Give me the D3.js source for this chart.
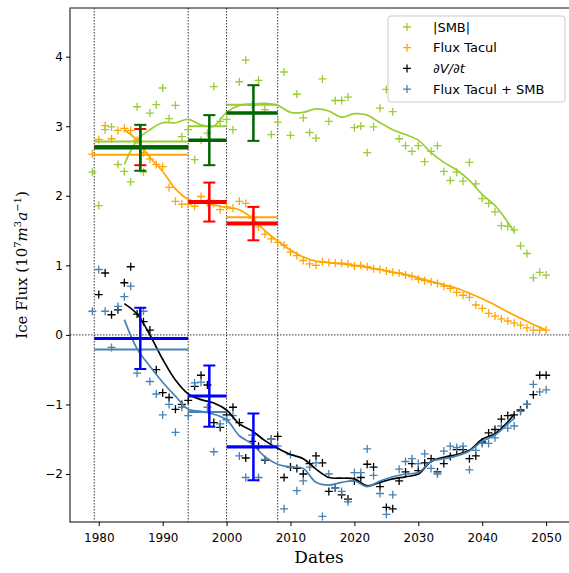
<!DOCTYPE html>
<html><head><meta charset="utf-8">
<script src="https://cdn.jsdelivr.net/npm/d3@7"></script>
<style>body{margin:0;background:#fff}svg{display:block}</style>
</head><body><svg id="c" width="569" height="573"></svg>
<script>
// yearly points
var smbYears=d3.range(1979,2051);
var smbPts=[2.34,1.86,2.95,2.99,2.45,2.35,2.2,3.28,2.34,3.19,3.31,3.55,3.11,3.3,2.85,2.95,2.52,2.8,2.9,3.57,3.07,3.1,2.95,3.64,3.95,3.3,3.66,3.24,2.88,3.06,3.78,2.87,3.46,3.12,2.91,2.83,3.68,3.07,3.37,3.37,3.42,2.98,3.0,2.62,2.99,3.26,3.53,3.21,2.82,2.72,2.64,2.72,2.49,2.64,2.72,2.35,2.22,2.34,2.21,2.48,2.17,1.96,1.89,1.77,1.57,1.56,1.51,1.28,1.17,0.82,0.90,0.86];
var fluxPts=[2.6,2.81,3.01,2.82,2.94,2.97,2.94,2.8,2.62,2.53,2.45,2.42,2.12,1.92,1.88,1.88,1.85,1.99,1.9,1.89,1.8,1.84,1.82,1.92,1.89,1.68,1.55,1.45,1.38,1.33,1.29,1.19,1.14,1.07,1.02,1.0,1.05,1.04,1.03,1.03,1.02,0.99,1.0,0.98,0.95,0.94,0.92,0.9,0.89,0.86,0.84,0.8,0.78,0.76,0.74,0.7,0.67,0.61,0.57,0.54,0.43,0.38,0.31,0.27,0.23,0.2,0.17,0.14,0.1,0.07,0.07,0.07];
var dvdtPts=[null,0.58,0.89,0.29,0.36,0.75,0.98,0.3,0.19,0.07,-0.5,-0.83,-0.9,-1.07,-1.0,-0.94,-0.74,-0.58,-0.72,-1.26,-1.33,-1.15,-1.04,-1.26,-1.77,-1.53,-1.6,-1.8,-1.5,-1.46,-2.05,-1.9,-1.92,-2.0,-1.85,-1.74,-1.84,-2.25,-2.2,-2.3,-2.36,-2.1,-2.05,-1.86,-1.9,-2.18,-2.48,-2.5,-2.1,-1.97,-1.85,-1.95,-1.84,-1.78,-1.97,-1.85,-1.75,-1.65,-1.65,-1.78,-1.74,-1.54,-1.41,-1.36,-1.21,-1.16,-1.15,-1.08,-1.0,-0.86,-0.58,-0.58];
var sumPts=[0.34,0.94,0.34,-0.18,0.41,0.55,0.7,-0.55,0.34,-0.67,-0.85,-1.15,-1.0,-1.4,-1.04,-1.16,-0.69,-0.68,-1.04,-1.68,-1.28,-1.22,-1.16,-1.74,-2.05,-1.44,-2.05,-1.79,-1.5,-1.6,-2.5,-1.72,-2.24,-2.1,-1.9,-1.84,-2.61,-2.0,-2.2,-2.25,-2.4,-1.98,-1.98,-1.64,-2.02,-2.28,-2.58,-2.3,-1.93,-1.82,-1.78,-1.85,-1.71,-1.92,-2.0,-1.67,-1.6,-1.62,-1.6,-1.94,-1.66,-1.56,-1.56,-1.48,-1.31,-1.34,-1.31,-1.1,-1.0,-0.71,-0.82,-0.79];
// smoothed model lines
var lineYears=[1984,1986,1988,1990,1992,1994,1996,1998,2000,2002,2004,2006,2008,2010,2012,2014,2016,2018,2020,2022,2024,2026,2028,2030,2032,2034,2036,2038,2040,2042,2044,2045];
var smbLine=[2.45,2.8,2.95,3.05,3.05,3.1,3.02,3.0,3.2,3.3,3.32,3.33,3.3,3.2,3.2,3.25,3.22,3.13,3.18,3.16,3.05,2.95,2.88,2.8,2.62,2.48,2.37,2.22,2.02,1.86,1.62,1.48];
var dvdtLine=[0.45,0.3,0.0,-0.35,-0.65,-0.85,-0.93,-0.98,-1.08,-1.28,-1.38,-1.52,-1.63,-1.72,-1.78,-1.93,-2.05,-2.06,-2.07,-2.17,-2.12,-2.07,-2.04,-2.0,-1.82,-1.76,-1.72,-1.66,-1.5,-1.42,-1.25,-1.14];
var sumLine=[0.22,-0.2,-0.45,-0.68,-0.88,-1.07,-1.1,-1.14,-1.22,-1.45,-1.57,-1.75,-1.86,-1.9,-1.92,-2.12,-2.16,-2.12,-2.1,-2.18,-2.1,-2.04,-2.0,-1.98,-1.82,-1.78,-1.74,-1.67,-1.53,-1.44,-1.28,-1.2];
var fluxLineYears=[1984,1986,1988,1990,1992,1994,1996,1998,2000,2002,2004,2006,2008,2010,2012,2014,2016,2018,2020,2022,2024,2026,2028,2030,2032,2034,2036,2038,2040,2042,2044,2046,2048,2050];
var fluxLine=[2.95,2.8,2.55,2.35,2.1,1.95,1.9,1.87,1.83,1.8,1.68,1.5,1.35,1.22,1.12,1.06,1.04,1.02,1.0,0.97,0.94,0.9,0.87,0.82,0.77,0.72,0.67,0.6,0.52,0.43,0.33,0.24,0.15,0.07];
// period means
var periods=[[1979.3,1994],[1994,2000],[2000,2008]];
var errX=[1986.5,1997.3,2004.2];
var smbModel=[2.78,3.0,3.31], fluxModel=[2.59,1.91,1.69], sumModel=[-0.21,-1.11,-1.6];
var smbObs=[2.69,2.8,3.19], smbErr=[0.33,0.36,0.4];
var fluxObs=[2.7,1.91,1.6], fluxErr=[0.26,0.28,0.24];
var dvdtObs=[-0.05,-0.88,-1.61], dvdtErr=[0.44,0.44,0.48];
var xTicks=[1980,1990,2000,2010,2020,2030,2040,2050], yTicks=[-2,-1,0,1,2,3,4];

var svg=d3.select('#c');
var L=70,R=572,T=8,B=522;
var x=d3.scaleLinear().domain([1975.5,2054.05]).range([L,R]);
var y=d3.scaleLinear().domain([-2.69,4.70]).range([B,T]);
var g=svg.append('g');

// frame
g.append('rect').attr('x',L).attr('y',T).attr('width',R-L).attr('height',B-T).attr('fill','none').attr('stroke','#000').attr('stroke-width',1);
g.append('line').attr('x1',L).attr('x2',R).attr('y1',T).attr('y2',T).attr('stroke','#888').attr('stroke-width',1.5);
[1979.3,1994,2000,2008].forEach(function(d,i){
  g.append('line').attr('x1',x(d)).attr('x2',x(d)).attr('y1',T).attr('y2',B)
   .attr('stroke',i==0?'#555':'#000').attr('stroke-width',i==0?1.2:0.8).attr('stroke-dasharray','1.5,1.5');
});
g.append('line').attr('x1',L).attr('x2',R).attr('y1',y(0)).attr('y2',y(0)).attr('stroke','#000').attr('stroke-width',0.8).attr('stroke-dasharray','1.5,1.5');

var xa=g.append('g').attr('transform','translate(0,'+B+')').call(d3.axisBottom(x).tickValues(xTicks).tickFormat(d3.format('d')).tickSize(4).tickSizeOuter(0));
var ya=g.append('g').attr('transform','translate('+L+',0)').call(d3.axisLeft(y).tickValues(yTicks).tickFormat(function(d){return d<0?'\u2212'+(-d):d}).tickSize(4).tickSizeOuter(0));
[xa,ya].forEach(function(a){a.select('.domain').remove();a.selectAll('text').attr('font-family','DejaVu Sans').attr('font-size',12).attr('fill','#000');});
xa.selectAll('text').attr('dy','1.1em');

svg.append('text').attr('x',(L+R)/2-2).attr('y',563).attr('text-anchor','middle').attr('font-family','DejaVu Serif').attr('font-size',17).text('Dates');
var yl=svg.append('text').attr('transform','translate(27,'+((T+B)/2)+') rotate(-90)').attr('text-anchor','middle').attr('font-family','DejaVu Serif').attr('font-size',15);
yl.append('tspan').text('Ice Flux (10');
yl.append('tspan').attr('font-size',10).attr('dy',-6).text('7');
yl.append('tspan').attr('dy',6).attr('font-style','italic').text('m');
yl.append('tspan').attr('font-size',10).attr('dy',-6).text('3');
yl.append('tspan').attr('dy',6).attr('font-style','italic').text('a');
yl.append('tspan').attr('font-size',10).attr('dy',-6).text('\u22121');
yl.append('tspan').attr('dy',6).text(')');

function plus(sel,data,color){
  var s=4;
  sel.append('g').selectAll('path').data(data.filter(function(d){return d[1]!=null})).enter().append('path')
   .attr('d',function(d){var px=x(d[0]),py=y(d[1]);return 'M'+(px-s)+','+py+'H'+(px+s)+'M'+px+','+(py-s)+'V'+(py+s);})
   .attr('stroke',color).attr('stroke-width',1.3).attr('fill','none');
}
var line=d3.line().x(function(d){return x(d[0])}).y(function(d){return y(d[1])}).curve(d3.curveCatmullRom);
function drawLine(xs,vs,color){g.append('path').datum(xs.map(function(d,i){return [d,vs[i]]})).attr('d',line).attr('fill','none').attr('stroke',color).attr('stroke-width',1.7);}
function pts(vs){return smbYears.map(function(d,i){return [d,vs[i]]});}

var cG='#9acd32',cO='#ffa500',cB='#4682b4';
plus(g,pts(smbPts),cG); plus(g,pts(fluxPts),cO); plus(g,pts(dvdtPts),'#000'); plus(g,pts(sumPts),cB);
drawLine(lineYears,smbLine,cG); drawLine(fluxLineYears,fluxLine,cO); drawLine(lineYears,dvdtLine,'#000'); drawLine(lineYears,sumLine,cB);

function hseg(vals,color,w){periods.forEach(function(p,i){g.append('line').attr('x1',x(p[0])).attr('x2',x(p[1])).attr('y1',y(vals[i])).attr('y2',y(vals[i])).attr('stroke',color).attr('stroke-width',w);});}
function ebar(vals,errs,color){errX.forEach(function(ex,i){var px=x(ex);
  g.append('line').attr('x1',px).attr('x2',px).attr('y1',y(vals[i]+errs[i])).attr('y2',y(vals[i]-errs[i])).attr('stroke',color).attr('stroke-width',2.5);
  [vals[i]+errs[i],vals[i]-errs[i]].forEach(function(v){g.append('line').attr('x1',px-6).attr('x2',px+6).attr('y1',y(v)).attr('y2',y(v)).attr('stroke',color).attr('stroke-width',2);});});}
hseg(smbModel,cG,2); hseg(fluxModel,cO,2); hseg(sumModel,cB,2);
ebar(fluxObs,fluxErr,'#f00'); hseg(fluxObs,'#f00',4);
ebar(smbObs,smbErr,'#006400'); hseg(smbObs,'#006400',3.5);
ebar(dvdtObs,dvdtErr,'#0000ff'); hseg(dvdtObs,'#0000ff',3);

// legend
var lg=svg.append('g');
lg.append('rect').attr('x',388).attr('y',16).attr('width',177).attr('height',86).attr('rx',3).attr('fill','#fff').attr('fill-opacity',0.8).attr('stroke','#ccc');
var names=['|SMB|','Flux Tacul','\u2202V/\u2202t','Flux Tacul + SMB'], cols=[cG,cO,'#000',cB];
names.forEach(function(n,i){
  var ly=27+i*20.7;
  lg.append('path').attr('d','M'+(407-4)+','+ly+'H'+(407+4)+'M407,'+(ly-4)+'V'+(ly+4)).attr('stroke',cols[i]).attr('stroke-width',1.3);
  lg.append('text').attr('x',433).attr('y',ly+4.5).attr('font-family','DejaVu Sans').attr('font-size',13).attr('font-style',i==2?'italic':'normal').text(n);
});
</script></body></html>
